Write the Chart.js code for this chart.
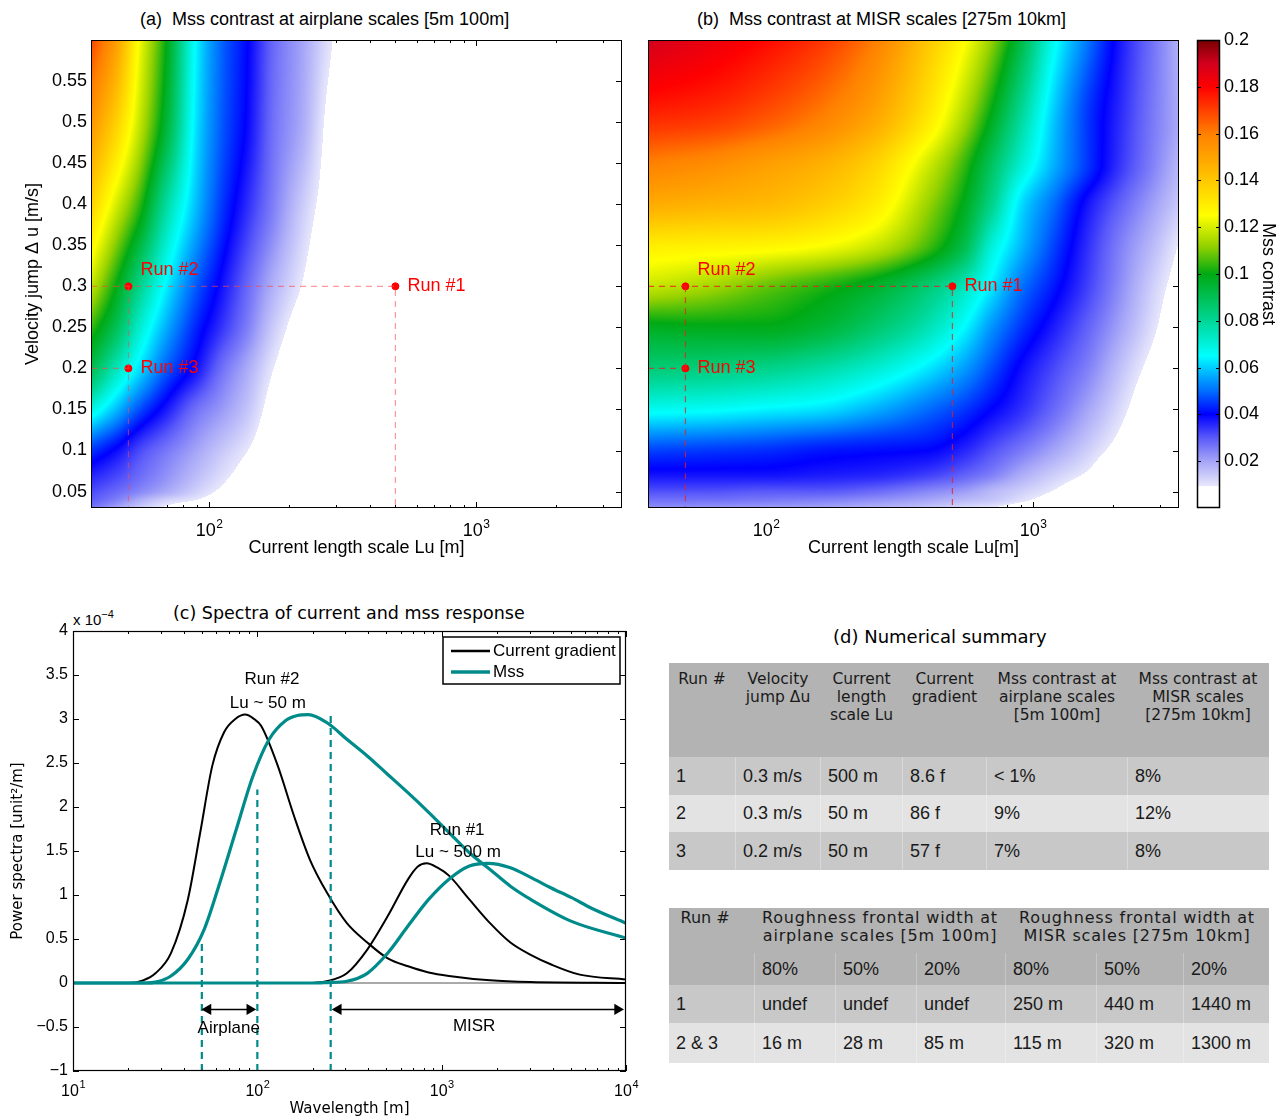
<!DOCTYPE html>
<html>
<head>
<meta charset="utf-8">
<title>Mss contrast</title>
<script src="https://cdn.jsdelivr.net/npm/chart.js@4.4.1/dist/chart.umd.min.js"></script>
<style>
  body { margin:0; width:1288px; height:1120px; position:relative; background:#fff; overflow:hidden;
         font-family:"Liberation Sans", Arial, sans-serif; color:#000; }
  canvas { position:absolute; display:block; }
  .lbl { position:absolute; white-space:nowrap; line-height:1; }
  table { position:absolute; border-collapse:collapse; table-layout:fixed; width:600px; color:#1a1a1a; }
  td { padding:0; white-space:pre; overflow:visible; }
  td.h { background:#b3b3b3; font-family:"DejaVu Sans", sans-serif; font-size:16px; line-height:18px;
         vertical-align:top; text-align:center; }
  td.c { font-family:"Liberation Sans", Arial, sans-serif; font-size:18px; padding-left:7px; vertical-align:middle;
         border-left:1px solid rgba(255,255,255,0.3); }
  tr.odd td.c { background:#c8c8c8; }
  tr.even td.c { background:#e3e3e3; }
</style>
</head>
<body>
<div class="lbl" style="left:140px;top:10px;font-size:18px">(a)&nbsp; Mss contrast at airplane scales [5m 100m]</div>
<div class="lbl" style="left:697px;top:10px;font-size:18px">(b)&nbsp; Mss contrast at MISR scales [275m 10km]</div>
<div class="lbl" style="left:173px;top:605px;font-size:17.5px;font-family:'DejaVu Sans'">(c) Spectra of current and mss response</div>
<div class="lbl" style="left:73px;top:612px;font-size:15px">x 10<span style="font-size:11px;position:relative;top:-7px">&minus;4</span></div>
<div class="lbl" style="left:833px;top:628px;font-size:18px;font-family:'DejaVu Sans'">(d) Numerical summary</div>

<canvas id="panelA" width="640" height="570" style="left:0;top:0"></canvas>
<canvas id="panelB" width="550" height="570" style="left:640px;top:0"></canvas>
<canvas id="cbar" width="98" height="570" style="left:1190px;top:0"></canvas>
<canvas id="spec" width="640" height="525" style="left:0;top:595px"></canvas>
<table id="tab1" style="left:668px;top:663px"></table>
<table id="tab2" style="left:668px;top:908px"></table>

<script>
Chart.defaults.font.family = '"Liberation Sans", Arial, sans-serif';
Chart.defaults.color = '#000';
Chart.defaults.animation = false;

// ---------- panels (a) and (b): mss contrast vs Lu and velocity jump ----------
const luMin = 36.2, luMax = 3530;
const duMin = 0.03, duMax = 0.6;
const luTicks = [100, 1000];
const luTickExp = ['2', '3'];
const luMinor = [40, 50, 60, 70, 80, 90, 200, 300, 400, 500, 600, 700, 800, 900, 2000, 3000];
const duTicks = [0.05, 0.1, 0.15, 0.2, 0.25, 0.3, 0.35, 0.4, 0.45, 0.5, 0.55];

// airplane scales field (a)
const luA = [36, 45, 55, 70, 90, 110, 140, 175, 225, 280, 350, 3550];
const duA = [0.6, 0.5, 0.4, 0.3, 0.25, 0.2, 0.15, 0.1, 0.05, 0.04, 0.03];
const mssA = [
  [0.17, 0.152, 0.124, 0.099, 0.064, 0.05, 0.04, 0.028, 0.02, 0.011, 0.004, 0],
  [0.155, 0.138, 0.118, 0.094, 0.062, 0.049, 0.039, 0.027, 0.019, 0.008, 0.002, 0],
  [0.138, 0.12, 0.104, 0.078, 0.058, 0.046, 0.035, 0.025, 0.014, 0.006, 0, 0],
  [0.118, 0.1, 0.082, 0.063, 0.048, 0.039, 0.028, 0.018, 0.009, 0.002, 0, 0],
  [0.105, 0.09, 0.072, 0.056, 0.043, 0.035, 0.025, 0.014, 0.005, 0, 0, 0],
  [0.092, 0.075, 0.062, 0.048, 0.038, 0.028, 0.019, 0.0095, 0.002, 0, 0, 0],
  [0.07, 0.058, 0.047, 0.037, 0.027, 0.022, 0.015, 0.006, 0, 0, 0, 0],
  [0.045, 0.039, 0.032, 0.026, 0.02, 0.015, 0.0095, 0.003, 0, 0, 0, 0],
  [0.032, 0.028, 0.024, 0.019, 0.013, 0.0085, 0.003, 0, 0, 0, 0, 0],
  [0.03, 0.025, 0.019, 0.013, 0.0095, 0.005, 0, 0, 0, 0, 0, 0],
  [0.027, 0.02, 0.014, 0.008, 0.003, 0, 0, 0, 0, 0, 0, 0]
];

// MISR scales field (b)
const luB = [36, 60, 100, 160, 250, 400, 550, 700, 900, 1200, 1600, 2200, 2800, 3550];
const duB = [0.6, 0.5, 0.45, 0.4, 0.35, 0.3, 0.25, 0.2, 0.15, 0.1, 0.07, 0.05, 0.04, 0.03];
const mssB = [
  [0.19, 0.185, 0.179, 0.172, 0.161, 0.141, 0.126, 0.112, 0.093, 0.067, 0.051, 0.036, 0.027, 0.018],
  [0.173, 0.171, 0.166, 0.159, 0.149, 0.131, 0.114, 0.098, 0.079, 0.059, 0.045, 0.034, 0.026, 0.019],
  [0.16, 0.157, 0.152, 0.147, 0.138, 0.12, 0.105, 0.089, 0.072, 0.057, 0.045, 0.033, 0.025, 0.017],
  [0.148, 0.146, 0.144, 0.139, 0.131, 0.113, 0.099, 0.082, 0.062, 0.05, 0.038, 0.028, 0.021, 0.014],
  [0.13, 0.129, 0.128, 0.125, 0.119, 0.106, 0.092, 0.071, 0.058, 0.046, 0.035, 0.024, 0.017, 0.009],
  [0.118, 0.114, 0.108, 0.103, 0.097, 0.086, 0.075, 0.063, 0.051, 0.042, 0.033, 0.022, 0.0135, 0.006],
  [0.098, 0.099, 0.099, 0.095, 0.087, 0.076, 0.065, 0.054, 0.045, 0.037, 0.029, 0.019, 0.011, 0.003],
  [0.085, 0.084, 0.082, 0.078, 0.072, 0.063, 0.055, 0.047, 0.039, 0.032, 0.025, 0.0145, 0.007, 0],
  [0.067, 0.066, 0.064, 0.062, 0.057, 0.05, 0.045, 0.04, 0.035, 0.028, 0.02, 0.0105, 0.003, 0],
  [0.046, 0.045, 0.044, 0.042, 0.041, 0.04, 0.036, 0.031, 0.026, 0.02, 0.0135, 0.0055, 0, 0],
  [0.038, 0.038, 0.038, 0.037, 0.036, 0.033, 0.029, 0.025, 0.019, 0.0135, 0.0085, 0, 0, 0],
  [0.031, 0.031, 0.03, 0.03, 0.028, 0.024, 0.021, 0.017, 0.0135, 0.009, 0.003, 0, 0, 0],
  [0.027, 0.027, 0.026, 0.025, 0.023, 0.02, 0.017, 0.015, 0.011, 0.006, 0, 0, 0, 0],
  [0.023, 0.022, 0.021, 0.02, 0.018, 0.015, 0.0115, 0.0093, 0.005, 0.001, 0, 0, 0, 0]
];

const runNames = ['Run #1', 'Run #2', 'Run #3'];
const runLu = [500, 50, 50];
const runDu = [0.3, 0.3, 0.2];

const cbarTicks = [0.02, 0.04, 0.06, 0.08, 0.1, 0.12, 0.14, 0.16, 0.18, 0.2];

// ---------- panel (c): spectra (units of 1e-4) ----------
const specTicks = [10, 100, 1000, 10000];
const specTickExp = ['1', '2', '3', '4'];
const specMinor = [20, 30, 40, 50, 60, 70, 80, 90, 200, 300, 400, 500, 600, 700, 800, 900,
                   2000, 3000, 4000, 5000, 6000, 7000, 8000, 9000];
const powTicks = [-1, -0.5, 0, 0.5, 1, 1.5, 2, 2.5, 3, 3.5, 4];

const wlGrad2 = [10, 20, 24, 28, 34, 42, 49, 57, 66, 76, 86, 96, 105, 129, 158, 193, 238, 306, 395, 510, 658, 850, 1096, 1830, 3040, 10000];
const psGrad2 = [0, 0, 0.03, 0.11, 0.34, 0.95, 1.71, 2.47, 2.85, 3.0, 3.05, 3.0, 2.92, 2.47, 1.9, 1.4, 1.03, 0.68, 0.46, 0.28, 0.19, 0.12, 0.08, 0.03, 0.01, 0];
const wlGrad1 = [10, 184, 238, 306, 395, 510, 658, 740, 828, 950, 1096, 1413, 1830, 2360, 3040, 3930, 5610, 10000];
const psGrad1 = [0, 0, 0.02, 0.11, 0.38, 0.76, 1.18, 1.32, 1.36, 1.31, 1.22, 0.95, 0.68, 0.46, 0.32, 0.21, 0.095, 0.04];
const wlMss2 = [10, 25, 28, 34, 42, 51.5, 62.6, 77, 94.6, 116, 142, 165, 189, 238, 306, 395, 510, 658, 850, 1096, 1413, 1830, 2360, 3040, 5070, 10000];
const psMss2 = [0, 0, 0.01, 0.08, 0.27, 0.61, 1.14, 1.75, 2.35, 2.77, 2.98, 3.04, 3.05, 2.96, 2.77, 2.58, 2.37, 2.16, 1.94, 1.71, 1.48, 1.29, 1.1, 0.95, 0.7, 0.51];
const wlMss1 = [10, 200, 238, 306, 395, 510, 658, 850, 1096, 1413, 1780, 2360, 3040, 3930, 5070, 6500, 10000];
const psMss1 = [0, 0, 0.005, 0.02, 0.11, 0.34, 0.65, 0.95, 1.18, 1.33, 1.36, 1.31, 1.2, 1.08, 0.97, 0.85, 0.68];

const bandEdges = [50, 100, 250];
const bandTops = [0.45, 2.2, 3.06];
const arrowLevel = -0.3;
const airplaneArrow = [54, 91];
const misrArrow = [275, 9000];
const legendLabels = ['Current gradient', 'Mss'];

const noteText = ['Run #2', 'Lu ~ 50 m', 'Run #1', 'Lu ~ 500 m', 'Airplane', 'MISR'];
const noteWl = [120, 114, 1213, 1227, 70, 1500];
const notePow = [3.45, 3.18, 1.74, 1.49, -0.51, -0.49];

// ---------- panel (d): tables ----------
const t1Head = ['Run #', 'Velocity\njump Δu', 'Current\nlength\nscale Lu', 'Current\ngradient',
                'Mss contrast at\nairplane scales\n[5m 100m]', 'Mss contrast at\nMISR scales\n[275m 10km]'];
const t1Rows = [
  ['1', '0.3 m/s', '500 m', '8.6 f', '< 1%', '8%'],
  ['2', '0.3 m/s', '50 m', '86 f', '9%', '12%'],
  ['3', '0.2 m/s', '50 m', '57 f', '7%', '8%']
];
const t2Groups = ['Roughness frontal width at\nairplane scales [5m 100m]',
                  'Roughness frontal width at\nMISR scales [275m 10km]'];
const t2Levels = ['80%', '50%', '20%', '80%', '50%', '20%'];
const t2Rows = [
  ['1', 'undef', 'undef', 'undef', '250 m', '440 m', '1440 m'],
  ['2 & 3', '16 m', '28 m', '85 m', '115 m', '320 m', '1300 m']
];

// ---------- colours ----------
const TEAL = '#008b8b';
const cmap = [
  [0.01, 228, 228, 252], [0.02, 165, 165, 248], [0.03, 90, 90, 250], [0.04, 0, 0, 255],
  [0.05, 0, 110, 255], [0.065, 0, 255, 255], [0.08, 0, 215, 150], [0.1, 0, 170, 20],
  [0.112, 150, 210, 0], [0.125, 255, 255, 0], [0.14, 255, 200, 0], [0.16, 255, 128, 0],
  [0.18, 255, 0, 0], [0.19, 210, 0, 30], [0.2, 120, 0, 0]
];
const CUT = 0.0095;
function colorOf(v) {
  if (v <= cmap[0][0]) return [cmap[0][1], cmap[0][2], cmap[0][3]];
  for (let i = 1; i < cmap.length; i++) {
    if (v <= cmap[i][0]) {
      const a = cmap[i - 1], b = cmap[i], t = (v - a[0]) / (b[0] - a[0]);
      return [a[1] + (b[1] - a[1]) * t, a[2] + (b[2] - a[2]) * t, a[3] + (b[3] - a[3]) * t];
    }
  }
  const l = cmap[cmap.length - 1];
  return [l[1], l[2], l[3]];
}
const clamp = t => Math.max(0, Math.min(1, t));

// monotone cubic (PCHIP) through a grid row/column, used for smooth shading
function monoSpline(xs, ys) {
  const n = xs.length, d = [], m = new Array(n);
  for (let i = 0; i < n - 1; i++) d.push((ys[i + 1] - ys[i]) / (xs[i + 1] - xs[i]));
  m[0] = d[0]; m[n - 1] = d[n - 2];
  for (let i = 1; i < n - 1; i++) {
    if (d[i - 1] * d[i] <= 0) { m[i] = 0; continue; }
    const h0 = xs[i] - xs[i - 1], h1 = xs[i + 1] - xs[i];
    const w1 = 2 * h1 + h0, w2 = h1 + 2 * h0;
    m[i] = (w1 + w2) / (w1 / d[i - 1] + w2 / d[i]);
  }
  return x => {
    let k = 0;
    while (k < n - 2 && xs[k + 1] < x) k++;
    const h = xs[k + 1] - xs[k], t = clamp((x - xs[k]) / h), t2 = t * t, t3 = t2 * t;
    return (2 * t3 - 3 * t2 + 1) * ys[k] + (t3 - 2 * t2 + t) * h * m[k] +
           (-2 * t3 + 3 * t2) * ys[k + 1] + (t3 - t2) * h * m[k + 1];
  };
}

// per-canvas drawing setup (kept outside chart options)
const panelCfg = {};

function drawTicks(chart, t) {
  const {ctx, chartArea: a, scales} = chart;
  ctx.save();
  ctx.strokeStyle = '#000';
  ctx.lineWidth = 1;
  ctx.beginPath();
  const vx = (vals, len) => vals.forEach(v => {
    const p = Math.round(scales.x.getPixelForValue(v)) + 0.5;
    ctx.moveTo(p, a.bottom); ctx.lineTo(p, a.bottom - len);
    ctx.moveTo(p, a.top); ctx.lineTo(p, a.top + len);
  });
  const vy = (vals, len) => vals.forEach(v => {
    const p = Math.round(scales.y.getPixelForValue(v)) + 0.5;
    ctx.moveTo(a.left, p); ctx.lineTo(a.left + len, p);
    ctx.moveTo(a.right, p); ctx.lineTo(a.right - len, p);
  });
  vx(t.xMajor || [], t.major); vx(t.xMinor || [], t.minor);
  vy(t.yMajor || [], t.major);
  ctx.stroke();
  ctx.restore();
}

// "10" with a raised exponent under each major log tick
function drawLogLabels(chart, l) {
  const {ctx, chartArea: a, scales: {x}} = chart;
  ctx.save();
  ctx.fillStyle = '#000';
  ctx.textBaseline = 'alphabetic';
  l.ticks.forEach((v, i) => {
    const px = x.getPixelForValue(v);
    ctx.font = l.size + 'px "Liberation Sans", Arial, sans-serif';
    ctx.textAlign = 'center';
    ctx.fillText('10', px - 3, a.bottom + l.base);
    const w = ctx.measureText('10').width;
    ctx.font = l.expSize + 'px "Liberation Sans", Arial, sans-serif';
    ctx.textAlign = 'left';
    ctx.fillText(l.exps[i], px - 3 + w / 2 + 0.5, a.bottom + l.base - l.raise);
  });
  ctx.restore();
}

function drawHeat(chart, h) {
  const {ctx, chartArea: a, scales: {x, y}} = chart;
  const w = Math.round(a.right - a.left), hh = Math.round(a.bottom - a.top);
  const off = document.createElement('canvas');
  off.width = w; off.height = hh;
  const octx = off.getContext('2d');
  const img = octx.createImageData(w, hh);
  const lc = h.cols.map(Math.log10);
  const rowFns = h.vals.map(r => monoSpline(lc, r));
  const rowsAsc = h.rows.slice().reverse();
  const dus = [];
  for (let j = 0; j < hh; j++) dus.push(y.getValueForPixel(a.top + j + 0.5));
  for (let i = 0; i < w; i++) {
    const lx = Math.log10(x.getValueForPixel(a.left + i + 0.5));
    const colVals = rowFns.map(f => f(lx)).reverse();
    const g = monoSpline(rowsAsc, colVals);
    for (let j = 0; j < hh; j++) {
      const v = g(dus[j]);
      const p = (j * w + i) * 4;
      if (v < CUT) { img.data[p + 3] = 0; continue; }
      const c = colorOf(v);
      img.data[p] = c[0]; img.data[p + 1] = c[1]; img.data[p + 2] = c[2]; img.data[p + 3] = 255;
    }
  }
  octx.putImageData(img, 0, 0);
  ctx.drawImage(off, a.left, a.top);
}

function drawCbar(chart) {
  const {ctx, chartArea: a, scales: {y}} = chart;
  ctx.save();
  for (let py = a.top; py < a.bottom; py++) {
    const v = y.getValueForPixel(py + 0.5);
    const c = v < CUT ? [255, 255, 255] : colorOf(v);
    ctx.fillStyle = `rgb(${c[0] | 0},${c[1] | 0},${c[2] | 0})`;
    ctx.fillRect(a.left, py, a.right - a.left, 1);
  }
  ctx.restore();
}

function drawRunLabels(chart, c) {
  const {ctx, scales: {x, y}} = chart;
  ctx.save();
  ctx.fillStyle = '#ff0000';
  ctx.font = '18px "Liberation Sans", Arial, sans-serif';
  ctx.textBaseline = 'middle';
  ctx.textAlign = 'left';
  runNames.forEach((n, i) => {
    ctx.fillText(n, x.getPixelForValue(runLu[i]) + 12, y.getPixelForValue(runDu[i]) + c.runDy[i]);
  });
  ctx.restore();
}

function drawSpecNotes(chart) {
  const {ctx, scales: {x, y}} = chart;
  ctx.save();
  ctx.fillStyle = '#000';
  ctx.font = '17px "Liberation Sans", Arial, sans-serif';
  ctx.textBaseline = 'middle';
  ctx.textAlign = 'center';
  noteText.forEach((t, i) => ctx.fillText(t, x.getPixelForValue(noteWl[i]), y.getPixelForValue(notePow[i])));
  ctx.restore();
}

function drawSpecLegend(chart) {
  const {ctx, chartArea: a} = chart;
  const bw = 177, bh = 47, left = a.right - 6 - bw, top = a.top + 6;
  ctx.save();
  ctx.fillStyle = '#fff';
  ctx.fillRect(left, top, bw, bh);
  ctx.strokeStyle = '#000';
  ctx.lineWidth = 1.5;
  ctx.strokeRect(left, top, bw, bh);
  const items = [{c: '#000', w: 2.5, y: 14}, {c: TEAL, w: 3.5, y: 35}];
  ctx.font = '17px "Liberation Sans", Arial, sans-serif';
  ctx.textBaseline = 'middle';
  ctx.fillStyle = '#000';
  items.forEach((it, i) => {
    ctx.beginPath();
    ctx.strokeStyle = it.c; ctx.lineWidth = it.w;
    ctx.moveTo(left + 8, top + it.y); ctx.lineTo(left + 47, top + it.y);
    ctx.stroke();
    ctx.fillText(legendLabels[i], left + 50, top + it.y);
  });
  ctx.restore();
}

const panelPlugin = {
  id: 'panel',
  beforeDatasetsDraw(chart) {
    const c = panelCfg[chart.canvas.id];
    if (!c) return;
    if (c.cbar) { drawCbar(chart); drawTicks(chart, c.ticks); return; }
    if (c.ticks) drawTicks(chart, c.ticks);
    if (c.heat) drawHeat(chart, c.heat);
  },
  afterDatasetsDraw(chart) {
    const c = panelCfg[chart.canvas.id];
    if (!c) return;
    if (c.runDy) drawRunLabels(chart, c);
    if (c.notes) drawSpecNotes(chart);
  },
  afterDraw(chart) {
    const c = panelCfg[chart.canvas.id];
    if (!c) return;
    if (c.legend) drawSpecLegend(chart);
    if (c.logLabels) drawLogLabels(chart, c.logLabels);
    const {ctx, chartArea: a} = chart;
    ctx.save();
    ctx.strokeStyle = '#000';
    ctx.lineWidth = c.frame || 1;
    ctx.strokeRect(a.left + 0.5, a.top + 0.5, a.right - a.left - 1, a.bottom - a.top - 1);
    ctx.restore();
  }
};

function runDatasets(color) {
  const dash = {showLine: true, borderColor: color, borderWidth: 1.2, borderDash: [6, 5], pointRadius: 0, fill: false};
  return [
    {...dash, data: [{x: luMin, y: runDu[0]}, {x: runLu[0], y: runDu[0]}, {x: runLu[0], y: duMin}]},
    {...dash, data: [{x: runLu[1], y: runDu[1]}, {x: runLu[1], y: duMin}]},
    {...dash, data: [{x: luMin, y: runDu[2]}, {x: runLu[2], y: runDu[2]}]},
    {data: runLu.map((v, i) => ({x: v, y: runDu[i]})), showLine: false, pointRadius: 3.5,
     pointBackgroundColor: '#ff0000', pointBorderColor: '#ff0000'}
  ];
}

const noGrid = {display: false, drawTicks: false};

function fieldChart(id, f) {
  panelCfg[id] = {
    heat: {cols: f.cols, rows: f.rows, vals: f.vals},
    ticks: {xMajor: luTicks, xMinor: luMinor, yMajor: duTicks, major: 6, minor: 3},
    logLabels: {ticks: luTicks, exps: luTickExp, size: 18, expSize: 12, base: 28, raise: 8},
    runDy: [0, -16, 0]
  };
  return new Chart(document.getElementById(id), {
    type: 'scatter',
    data: {datasets: runDatasets(f.guide)},
    options: {
      responsive: false,
      layout: {padding: {left: 0, right: f.padRight, top: 40, bottom: 0}},
      plugins: {legend: {display: false}, tooltip: {enabled: false}},
      scales: {
        x: {
          type: 'logarithmic', min: luMin, max: luMax,
          grid: noGrid, border: {display: false},
          afterFit: s => { s.height = 62; },
          ticks: {display: false},
          title: {display: true, text: f.xTitle, font: {size: 18}, padding: {top: 0, bottom: 11}}
        },
        y: {
          min: duMin, max: duMax,
          grid: noGrid, border: {display: false},
          afterBuildTicks: s => { s.ticks = duTicks.map(v => ({value: v})); },
          afterFit: s => { s.width = f.yWidth; },
          ticks: {display: f.yLabels, padding: 4, font: {size: 18}, callback: v => String(v)},
          title: {display: !!f.yTitle, text: f.yTitle || '', font: {size: 18}, padding: {top: 22, bottom: 0}}
        }
      }
    },
    plugins: [panelPlugin]
  });
}

fieldChart('panelA', {cols: luA, rows: duA, vals: mssA, guide: 'rgba(255,70,70,0.55)', padRight: 18,
  yWidth: 91, yLabels: true, xTitle: 'Current length scale Lu [m]', yTitle: 'Velocity jump Δ u [m/s]'});
fieldChart('panelB', {cols: luB, rows: duB, vals: mssB, guide: 'rgba(235,30,30,0.75)', padRight: 11,
  yWidth: 8, yLabels: false, xTitle: 'Current length scale Lu[m]'});

// colorbar
panelCfg.cbar = {cbar: true, ticks: {yMajor: cbarTicks, major: 4}, frame: 1.5};
new Chart(document.getElementById('cbar'), {
  type: 'scatter',
  data: {datasets: []},
  options: {
    responsive: false,
    layout: {padding: {left: 7, right: 0, top: 40, bottom: 62}},
    plugins: {legend: {display: false}, tooltip: {enabled: false}},
    scales: {
      x: {display: false, min: 0, max: 1},
      y: {
        position: 'right', min: 0, max: 0.2,
        grid: noGrid, border: {display: false},
        afterBuildTicks: s => { s.ticks = cbarTicks.map(v => ({value: v})); },
        afterFit: s => { s.width = 68; },
        ticks: {padding: 4, font: {size: 18}, callback: v => String(v)},
        title: {display: true, text: 'Mss contrast', font: {size: 18}, padding: {top: 9, bottom: 0}}
      }
    }
  },
  plugins: [panelPlugin]
});

// spectra
const pts = (xs, ys) => xs.map((v, i) => ({x: v, y: ys[i]}));
const curve = (xs, ys, color, width, order) => ({data: pts(xs, ys), showLine: true, borderColor: color,
  borderWidth: width, pointRadius: 0, cubicInterpolationMode: 'monotone', order});
const arrow = (ends) => ({data: ends.map(v => ({x: v, y: arrowLevel})), showLine: true, borderColor: '#000',
  borderWidth: 1.5, pointStyle: 'triangle', pointRadius: 5, pointRotation: [270, 90],
  pointBackgroundColor: '#000', pointBorderColor: '#000', order: 0});

panelCfg.spec = {
  ticks: {xMajor: specTicks, xMinor: specMinor, yMajor: powTicks, major: 6, minor: 3},
  logLabels: {ticks: specTicks, exps: specTickExp, size: 16, expSize: 11, base: 25, raise: 8},
  notes: true, legend: true, frame: 1.2
};
new Chart(document.getElementById('spec'), {
  type: 'scatter',
  data: {
    datasets: [
      {data: [{x: 10, y: 0}, {x: 10000, y: 0}], showLine: true, borderColor: '#555', borderWidth: 1, pointRadius: 0, order: 4},
      curve(wlGrad2, psGrad2, '#000', 2, 3),
      curve(wlGrad1, psGrad1, '#000', 2, 3),
      curve(wlMss2, psMss2, TEAL, 3.2, 2),
      curve(wlMss1, psMss1, TEAL, 3.2, 2),
      ...bandEdges.map((v, i) => ({data: [{x: v, y: -1}, {x: v, y: bandTops[i]}], showLine: true,
        borderColor: TEAL, borderWidth: 2.2, borderDash: [7, 5], pointRadius: 0, order: 1})),
      arrow(airplaneArrow),
      arrow(misrArrow)
    ]
  },
  options: {
    responsive: false,
    layout: {padding: {left: 0, right: 14, top: 36, bottom: 0}},
    plugins: {legend: {display: false}, tooltip: {enabled: false}},
    scales: {
      x: {
        type: 'logarithmic', min: 10, max: 10000,
        grid: noGrid, border: {display: false},
        afterFit: s => { s.height = 49; },
        ticks: {display: false},
        title: {display: true, text: 'Wavelength [m]', font: {family: '"DejaVu Sans", sans-serif', size: 15},
                padding: {top: 0, bottom: 2}}
      },
      y: {
        min: -1, max: 4,
        grid: noGrid, border: {display: false},
        afterBuildTicks: s => { s.ticks = powTicks.map(v => ({value: v})); },
        afterFit: s => { s.width = 73; },
        ticks: {padding: 5, font: {size: 16}, callback: v => (v < 0 ? '\u2212' + Math.abs(v) : String(v))},
        title: {display: true, text: 'Power spectra [unit²/m]', font: {family: '"DejaVu Sans", sans-serif', size: 15},
                padding: {top: 9, bottom: 0}}
      }
    }
  },
  plugins: [panelPlugin]
});

// ---------- tables ----------
const t1Widths = [67, 85, 82, 84, 141, 141];
const t1RowH = [38, 37, 38];
const t2Widths = [86, 81, 81, 89, 91, 87, 85];
const t2RowH = [38, 40];

function cell(tr, text, cls, extra) {
  const td = document.createElement('td');
  td.className = cls;
  td.textContent = text;
  if (extra) {
    Object.assign(td.style, extra.style || {});
    if (extra.colSpan) td.colSpan = extra.colSpan;
    if (extra.rowSpan) td.rowSpan = extra.rowSpan;
  }
  tr.appendChild(td);
  return td;
}
function cols(table, widths) {
  const cg = document.createElement('colgroup');
  widths.forEach(w => { const c = document.createElement('col'); c.style.width = w + 'px'; cg.appendChild(c); });
  table.appendChild(cg);
}

const tab1 = document.getElementById('tab1');
cols(tab1, t1Widths);
let tr = document.createElement('tr');
tr.style.height = '94px';
t1Head.forEach(h => cell(tr, h, 'h', {style: {paddingTop: '7px', fontSize: '15.5px'}}));
tab1.appendChild(tr);
t1Rows.forEach((r, i) => {
  const row = document.createElement('tr');
  row.className = i % 2 ? 'even' : 'odd';
  row.style.height = t1RowH[i] + 'px';
  r.forEach(v => cell(row, v, 'c'));
  tab1.appendChild(row);
});

const tab2 = document.getElementById('tab2');
cols(tab2, t2Widths);
tr = document.createElement('tr');
tr.style.height = '45px';
cell(tr, 'Run #', 'h', {rowSpan: 2, style: {textAlign: 'left', paddingLeft: '12px', paddingTop: '1px'}});
t2Groups.forEach(g => cell(tr, g, 'h', {colSpan: 3, style: {paddingTop: '1px', letterSpacing: '0.8px'}}));
tab2.appendChild(tr);
tr = document.createElement('tr');
tr.style.height = '32px';
t2Levels.forEach(l => cell(tr, l, 'h', {style: {textAlign: 'left', paddingLeft: '7px', verticalAlign: 'middle',
  fontFamily: '"Liberation Sans", Arial, sans-serif', fontSize: '18px', borderLeft: '1px solid rgba(255,255,255,0.25)'}}));
tab2.appendChild(tr);
t2Rows.forEach((r, i) => {
  const row = document.createElement('tr');
  row.className = i % 2 ? 'even' : 'odd';
  row.style.height = t2RowH[i] + 'px';
  r.forEach(v => cell(row, v, 'c'));
  tab2.appendChild(row);
});
</script>
</body>
</html>
